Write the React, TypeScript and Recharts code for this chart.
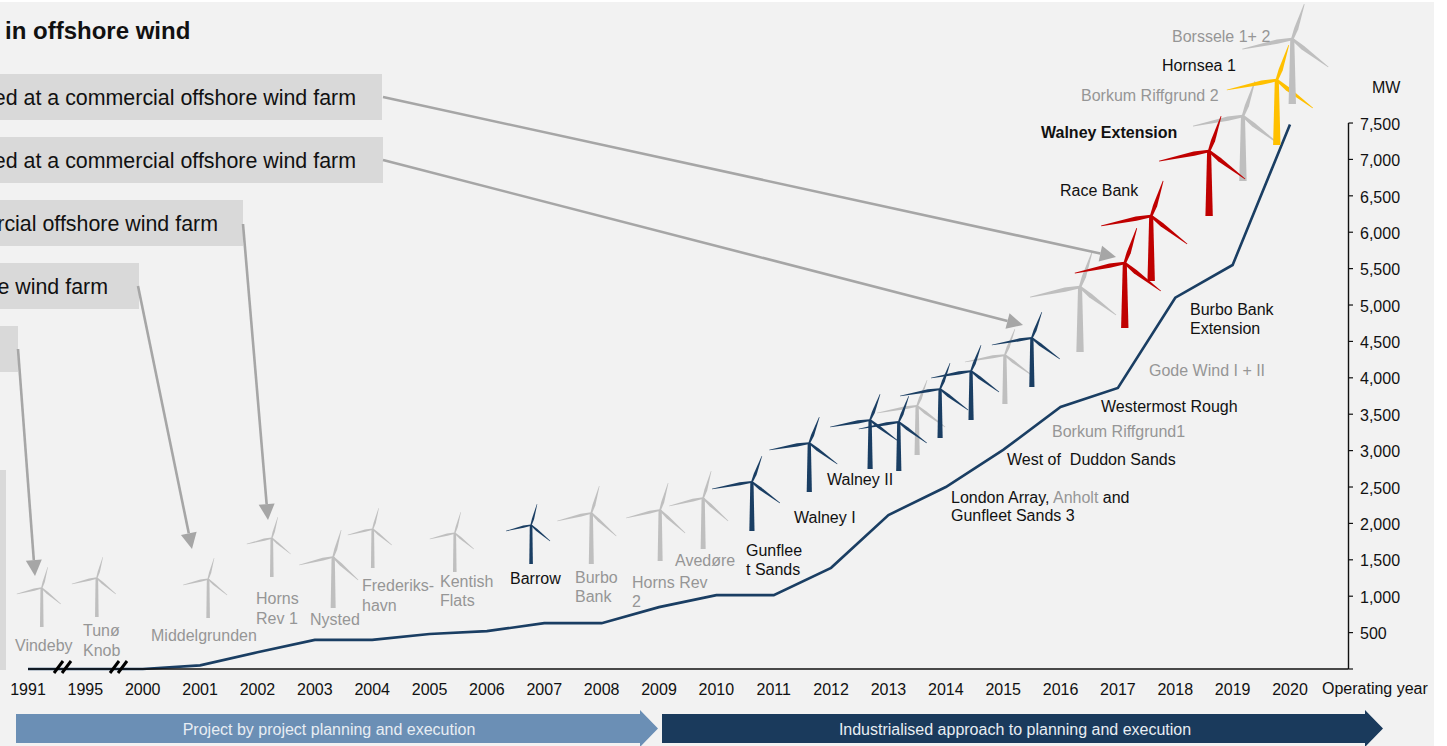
import React from "react";
import {
  ComposedChart,
  Line,
  Scatter,
  XAxis,
  YAxis,
  ReferenceLine,
} from "recharts";

const years = ["1991", "1995", "2000", "2001", "2002", "2003", "2004", "2005", "2006", "2007", "2008", "2009", "2010", "2011", "2012", "2013", "2014", "2015", "2016", "2017", "2018", "2019", "2020"];
const capacityMw = [0, 0, 0, 50, 230, 400, 400, 480, 520, 630, 630, 850, 1015, 1015, 1390, 2115, 2500, 3010, 3600, 3860, 5100, 5550, 7480];
const mwTicks = [0, 500, 1000, 1500, 2000, 2500, 3000, 3500, 4000, 4500, 5000, 5500, 6000, 6500, 7000, 7500];

// turbines sit on the same axes: position along the years, height in MW
const greyNames = ["Vindeby", "Tunø Knob", "Middelgrunden", "Horns Rev 1", "Nysted", "Frederikshavn", "Kentish Flats", "Burbo Bank", "Horns Rev 2", "Avedøre", "Anholt", "Borkum Riffgrund1", "Gode Wind", "Borkum Riffgrund 2"];
const greyPos = [0.24, 1.2, 3.14, 4.25, 5.32, 6.01, 7.44, 9.82, 11.02, 11.77, 15.5, 17.03, 18.34, 21.18];
const greyMw = [1113, 1250, 1236, 1799, 1538, 1923, 1868, 2143, 2184, 2349, 3613, 4313, 5247, 7596];

const navyNames = ["Barrow", "Gunfleet Sands", "Walney I", "Walney II", "London Array", "Gunfleet Sands 3", "West of Duddon Sands", "Westermost Rough"];
const navyPos = [8.77, 12.62, 13.62, 14.68, 15.18, 15.9, 16.44, 17.5];
const navyMw = [1978, 2569, 3104, 3420, 3393, 3846, 4093, 4547];

const redNames = ["Burbo Bank Extension", "Race Bank", "Walney Extension"];
const redPos = [19.12, 19.58, 20.59];
const redMw = [5577, 6223, 7115];

const yellowNames = ["Hornsea 1"];
const yellowPos = [21.77];
const yellowMw = [8091];

const topNames = ["Borssele 1+ 2"];
const topPos = [22.04];
const topMw = [8654];

const smallTurbines = ["Vindeby", "Tunø Knob", "Middelgrunden", "Horns Rev 1", "Frederikshavn", "Kentish Flats", "Barrow"];
const wideTurbines = ["Nysted", "Burbo Bank", "Horns Rev 2", "Avedøre"];
const bigTurbines = ["Gode Wind", "Burbo Bank Extension", "Race Bank", "Walney Extension", "Borkum Riffgrund 2", "Hornsea 1", "Borssele 1+ 2"];

const GREY = "#bfbfbf";
const NAVY = "#1a3e63";
const RED = "#c00000";
const YELLOW = "#ffc000";
const LABEL_GREY = "#969696";
const TEXT = "#111111";
const FONT = "'Liberation Sans', Arial, sans-serif";
const LABEL_SIZE = 16;

const rows = years.map((y, i) => ({ pos: i, mw: capacityMw[i], year: y }));
const toPoints = (names: string[], pos: number[], mw: number[]) =>
  names.map((name, i) => ({ name, pos: pos[i], mw: mw[i] }));

function geometry(name: string) {
  if (smallTurbines.includes(name))
    return { tower: 39, base: 3.6, top: 2.6, blade: 1.3, up: [6, -21], left: [-25, 6], right: [19, 16] };
  if (wideTurbines.includes(name))
    return { tower: 51, base: 5, top: 3.2, blade: 1.7, up: [8, -27], left: [-34, 8], right: [25, 23] };
  if (bigTurbines.includes(name))
    return { tower: 65, base: 7.4, top: 4, blade: 2.5, up: [12, -35], left: [-50, 10], right: [36, 28] };
  return { tower: 49, base: 5.2, top: 3.2, blade: 1.8, up: [10, -26], left: [-40, 7], right: [28, 21] };
}

function bladePath(cx: number, cy: number, tip: number[], w: number) {
  const len = Math.hypot(tip[0], tip[1]);
  const nx = -tip[1] / len;
  const ny = tip[0] / len;
  const mx = cx + tip[0] * 0.3;
  const my = cy + tip[1] * 0.3;
  const ex = cx + tip[0];
  const ey = cy + tip[1];
  const pts = [
    [cx + nx * w * 0.5, cy + ny * w * 0.5],
    [mx + nx * w, my + ny * w],
    [ex + nx * w * 0.15, ey + ny * w * 0.15],
    [ex - nx * w * 0.15, ey - ny * w * 0.15],
    [mx - nx * w * 0.7, my - ny * w * 0.7],
    [cx - nx * w * 0.5, cy - ny * w * 0.5],
  ];
  return "M" + pts.map((p) => `${p[0]} ${p[1]}`).join("L") + "Z";
}

function turbineShape(color: string) {
  return (props: any) => {
    const { cx, cy, payload } = props;
    const g = geometry(payload.name);
    return (
      <g fill={color}>
        <path d={`M${cx - g.top / 2} ${cy}L${cx + g.top / 2} ${cy}L${cx + g.base / 2} ${cy + g.tower}L${cx - g.base / 2} ${cy + g.tower}Z`} />
        <path d={bladePath(cx, cy, g.up, g.blade)} />
        <path d={bladePath(cx, cy, g.left, g.blade)} />
        <path d={bladePath(cx, cy, g.right, g.blade)} />
      </g>
    );
  };
}

// project labels, one line per entry
const labels: { x: number; y: number; t: string; c?: string; b?: boolean }[] = [
  { x: 15, y: 651, t: "Vindeby", c: LABEL_GREY },
  { x: 83, y: 636, t: "Tunø", c: LABEL_GREY },
  { x: 83, y: 656, t: "Knob", c: LABEL_GREY },
  { x: 151, y: 641, t: "Middelgrunden", c: LABEL_GREY },
  { x: 256, y: 604, t: "Horns", c: LABEL_GREY },
  { x: 256, y: 624, t: "Rev 1", c: LABEL_GREY },
  { x: 310, y: 625, t: "Nysted", c: LABEL_GREY },
  { x: 362, y: 591, t: "Frederiks-", c: LABEL_GREY },
  { x: 362, y: 611, t: "havn", c: LABEL_GREY },
  { x: 440, y: 587, t: "Kentish", c: LABEL_GREY },
  { x: 440, y: 606, t: "Flats", c: LABEL_GREY },
  { x: 510, y: 584, t: "Barrow" },
  { x: 575, y: 583, t: "Burbo", c: LABEL_GREY },
  { x: 575, y: 602, t: "Bank", c: LABEL_GREY },
  { x: 632, y: 588, t: "Horns Rev", c: LABEL_GREY },
  { x: 632, y: 607, t: "2", c: LABEL_GREY },
  { x: 675, y: 566, t: "Avedøre", c: LABEL_GREY },
  { x: 746, y: 556, t: "Gunflee" },
  { x: 746, y: 575, t: "t Sands" },
  { x: 794, y: 523, t: "Walney I" },
  { x: 827, y: 485, t: "Walney II" },
  { x: 951, y: 521, t: "Gunfleet Sands 3" },
  { x: 1007, y: 465, t: "West of  Duddon Sands" },
  { x: 1052, y: 437, t: "Borkum Riffgrund1", c: LABEL_GREY },
  { x: 1101, y: 412, t: "Westermost Rough" },
  { x: 1149, y: 376, t: "Gode Wind I + II", c: LABEL_GREY },
  { x: 1190, y: 315, t: "Burbo Bank" },
  { x: 1190, y: 334, t: "Extension" },
  { x: 1060, y: 196, t: "Race Bank" },
  { x: 1041, y: 138, t: "Walney Extension", b: true },
  { x: 1081, y: 101, t: "Borkum Riffgrund 2", c: LABEL_GREY },
  { x: 1162, y: 71, t: "Hornsea 1" },
  { x: 1172, y: 42, t: "Borssele 1+ 2", c: LABEL_GREY },
  { x: 1372, y: 93, t: "MW" },
  { x: 1322, y: 694, t: "Operating year" },
];

const calloutBoxes = [
  { y: 74, w: 382, t: "ed at a commercial offshore wind farm", end: 356 },
  { y: 137, w: 383, t: "ed at a commercial offshore wind farm", end: 356 },
  { y: 200, w: 243, t: "rcial offshore wind farm", end: 218 },
  { y: 263, w: 139, t: "e wind farm", end: 108 },
  { y: 326, w: 18, t: "", end: 0 },
];

const callouts = [
  [383, 97, 1116, 257],
  [383, 160, 1023, 325],
  [243, 224, 268, 520],
  [138, 286, 192, 549],
  [18, 349, 35, 576],
];

function CalloutArrow({ a }: { a: number[] }) {
  const [x1, y1, x2, y2] = a;
  const len = Math.hypot(x2 - x1, y2 - y1);
  const ux = (x2 - x1) / len;
  const uy = (y2 - y1) / len;
  const bx = x2 - ux * 16;
  const by = y2 - uy * 16;
  return (
    <g>
      <line x1={x1} y1={y1} x2={bx} y2={by} stroke="#a6a6a6" strokeWidth={2.6} />
      <path d={`M${x2} ${y2}L${bx - uy * 8} ${by + ux * 8}L${bx + uy * 8} ${by - ux * 8}Z`} fill="#a6a6a6" />
    </g>
  );
}

export default function App() {
  return (
    <div style={{ position: "absolute", left: 0, top: 0, width: 1447, height: 746, background: "#fff", overflow: "hidden" }}>
      <div style={{ position: "absolute", left: 0, top: 2, width: 1434, height: 744, background: "#f2f2f2" }} />

      <div style={{ position: "absolute", left: 0, top: 0 }}>
        <ComposedChart
          width={1447}
          height={746}
          data={rows}
          margin={{ top: 0, right: 38.5, bottom: 0, left: 28 }}
        >
          <XAxis
            dataKey="pos"
            type="number"
            domain={[0, 23.02]}
            ticks={rows.map((r) => r.pos)}
            interval={0}
            tickFormatter={(v: number) => years[v]}
            height={77}
            tickLine={false}
            tickSize={0}
            tickMargin={15}
            axisLine={{ stroke: "#111", strokeWidth: 1.5 }}
            tick={{ fill: TEXT, fontSize: LABEL_SIZE, fontFamily: FONT }}
          />
          <YAxis
            dataKey="mw"
            orientation="right"
            type="number"
            domain={[0, 9190]}
            ticks={mwTicks}
            interval={0}
            width={60}
            tickSize={4.5}
            tickMargin={7}
            axisLine={false}
            tickLine={{ stroke: "#111", strokeWidth: 1.2 }}
            tickFormatter={(v: number) => (v === 0 ? "" : v.toLocaleString("en-US"))}
            tick={{ fill: TEXT, fontSize: LABEL_SIZE, fontFamily: FONT, textAnchor: "start", dy: 1 }}
          />
          <ReferenceLine
            segment={[{ x: 23.02, y: 0 }, { x: 23.02, y: 7500 }]}
            stroke="#111"
            strokeWidth={1.4}
          />
          <Scatter data={toPoints(greyNames, greyPos, greyMw)} shape={turbineShape(GREY)} isAnimationActive={false} />
          <Scatter data={toPoints(navyNames, navyPos, navyMw)} shape={turbineShape(NAVY)} isAnimationActive={false} />
          <Scatter data={toPoints(redNames, redPos, redMw)} shape={turbineShape(RED)} isAnimationActive={false} />
          <Scatter data={toPoints(yellowNames, yellowPos, yellowMw)} shape={turbineShape(YELLOW)} isAnimationActive={false} />
          <Scatter data={toPoints(topNames, topPos, topMw)} shape={turbineShape(GREY)} isAnimationActive={false} />
          <Line
            dataKey="mw"
            stroke={NAVY}
            strokeWidth={2.6}
            dot={false}
            type="linear"
            isAnimationActive={false}
          />
        </ComposedChart>
      </div>

      {/* callouts, labels and the two phase arrows on top of the chart */}
      <svg width={1447} height={746} style={{ position: "absolute", left: 0, top: 0, pointerEvents: "none", fontFamily: FONT }}>
        <rect x={0} y={470} width={6} height={200} fill="#d9d9d9" />
        <text x={5} y={39} fontSize={24} fontWeight="bold" fill={TEXT}>in offshore wind</text>
        {calloutBoxes.map((b, i) => (
          <g key={i}>
            <rect x={0} y={b.y} width={b.w} height={46} fill="#d9d9d9" />
            {b.t && (
              <text x={b.end} y={b.y + 31} fontSize={21.4} textAnchor="end" fill={TEXT}>{b.t}</text>
            )}
          </g>
        ))}
        {callouts.map((a, i) => <CalloutArrow key={i} a={a} />)}

        {labels.map((l, i) => (
          <text key={i} x={l.x} y={l.y} fontSize={LABEL_SIZE} fontWeight={l.b ? "bold" : "normal"} fill={l.c || TEXT} style={{ whiteSpace: "pre" }}>{l.t}</text>
        ))}
        <text x={951} y={503} fontSize={LABEL_SIZE} fill={TEXT}>
          London Array, <tspan fill={LABEL_GREY}>Anholt</tspan> and
        </text>

        {[54, 62, 110, 118].map((x) => (
          <line key={x} x1={x} y1={673} x2={x + 9} y2={661} stroke="#000" strokeWidth={3} />
        ))}

        <path d="M16 714H640V710L658 728.5L640 747V743H16Z" fill="#6b8fb5" />
        <text x={329} y={735} fontSize={16} textAnchor="middle" fill="#e8edf3">Project by project planning and execution</text>
        <path d="M662 714H1365V710L1383 728.5L1365 747V743H662Z" fill="#1a3a5c" />
        <text x={1015} y={735} fontSize={16} textAnchor="middle" fill="#e8edf3">Industrialised approach to planning and execution</text>
      </svg>
    </div>
  );
}
